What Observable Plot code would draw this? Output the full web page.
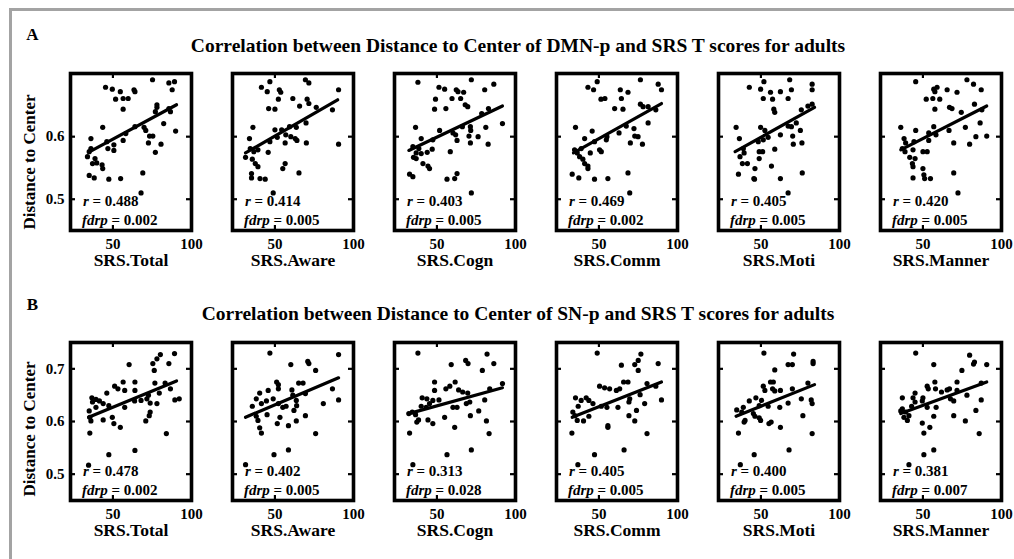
<!DOCTYPE html>
<html>
<head>
<meta charset="utf-8">
<script src="https://cdn.jsdelivr.net/npm/d3@7"></script>
<script src="https://cdn.jsdelivr.net/npm/@observablehq/plot@0.6"></script>
<style>
  html, body { margin: 0; padding: 0; background: #fff; }
  #root { position: relative; width: 1014px; height: 559px; overflow: hidden; background: #fff;
          font-family: "Liberation Serif", "Times New Roman", serif; font-weight: bold; color: #000; }
  .abs { position: absolute; white-space: nowrap; line-height: 1; }
  .panel { position: absolute; }
  .panel svg { overflow: visible; max-width: none !important; }
</style>
</head>
<body>
<div id="root"></div>
<script>
// ---------------- DATA ----------------
const panelNames = ["SRS.Total", "SRS.Aware", "SRS.Cogn", "SRS.Comm", "SRS.Moti", "SRS.Manner"];
const rowLetters = ["A", "B"];
const rowTitles = [
  "Correlation between Distance to Center of DMN-p and SRS T scores for adults",
  "Correlation between Distance to Center of SN-p and SRS T scores for adults"
];
const yAxisLabel = "Distance to Center";
const xTicks = [50, 100];
const yTicksA = [0.5, 0.6];
const yTicksB = [0.5, 0.6, 0.7];

const rA = ["0.488", "0.414", "0.403", "0.469", "0.405", "0.420"];
const fdrpA = ["0.002", "0.005", "0.005", "0.002", "0.005", "0.005"];
const rB = ["0.478", "0.402", "0.313", "0.405", "0.400", "0.381"];
const fdrpB = ["0.002", "0.005", "0.028", "0.005", "0.005", "0.007"];

// [SRS score, distance to center]
const dmnTotal = [[75.2,.691],[85.6,.686],[89.2,.688],[87.7,.675],[45.3,.679],[49.6,.676],[54.7,.672],[51.7,.660],[56.5,.661],[59.7,.661],[63.4,.675],[64,.672],[56.5,.644],[78,.651],[78,.647],[77,.640],[85.6,.645],[86.6,.640],[82.3,.621],[89.9,.609],[43.5,.615],[64,.616],[69.8,.615],[70.9,.610],[73.3,.601],[75.4,.601],[72.6,.590],[80.6,.588],[77,.575],[36,.597],[56.5,.594],[58.2,.605],[46.1,.592],[50.6,.587],[46.8,.581],[50.6,.578],[36,.581],[34.9,.576],[33.8,.568],[38.6,.565],[37,.557],[39.7,.558],[43.1,.555],[43.5,.549],[34.9,.538],[38.1,.534],[47.4,.532],[54.9,.533],[69,.542],[67.9,.510]];
const dmnAware = [[41.4,.679],[46.8,.688],[45.1,.672],[52.8,.675],[53.7,.671],[52.2,.660],[61.4,.661],[69.4,.691],[71.6,.686],[70.5,.660],[71.6,.653],[65.7,.649],[90.5,.675],[76.3,.647],[86.6,.643],[46,.645],[50,.644],[36,.615],[50,.611],[54.3,.611],[59.3,.616],[63.6,.615],[69.8,.622],[90.5,.588],[33.8,.597],[51.5,.599],[56.9,.603],[60.1,.600],[62.9,.597],[64,.594],[70,.590],[56.5,.590],[46.8,.592],[34.3,.581],[36.6,.576],[39.2,.579],[45.7,.575],[31.3,.567],[35.6,.564],[37.5,.557],[39.2,.552],[56.5,.557],[55,.549],[35.1,.541],[35.1,.534],[40.5,.533],[43.8,.532],[65.3,.542],[48.9,.510]];
const dmnCogn = [[37.9,.687],[71.9,.691],[86.2,.684],[51.3,.679],[54.9,.676],[62.3,.675],[63.4,.672],[67,.671],[80.4,.675],[49.1,.660],[59.6,.661],[65.1,.661],[48.5,.644],[55.7,.645],[68,.651],[69.6,.648],[78.5,.637],[82.8,.645],[91.7,.621],[36.4,.615],[51.7,.610],[60.2,.606],[66.2,.616],[71.3,.616],[71.5,.610],[81.1,.615],[40,.597],[47.4,.595],[61.9,.603],[62.8,.594],[70.4,.601],[76.2,.600],[71.3,.590],[82.6,.588],[34.7,.584],[38.5,.581],[36.8,.574],[40,.573],[43.8,.575],[47,.580],[35.1,.567],[36.8,.565],[41.1,.557],[44.3,.553],[45.3,.549],[58.5,.576],[32.6,.540],[34.7,.536],[56.4,.532],[61.3,.533],[62.8,.541],[71.9,.510]];
const dmnComm = [[48.9,.688],[76.4,.691],[87.7,.684],[89.8,.675],[43,.679],[46.6,.675],[51.3,.660],[53.8,.661],[63.6,.675],[68.5,.671],[64.3,.661],[60,.645],[65.3,.644],[76.4,.652],[78.1,.648],[81.3,.648],[86.2,.643],[81.3,.622],[35.1,.615],[45.7,.609],[55.1,.600],[54.7,.595],[62.8,.606],[67.4,.617],[72.3,.613],[72.8,.601],[74.9,.600],[70,.590],[77.7,.588],[40.9,.597],[47.2,.592],[50.4,.579],[51.5,.576],[44.5,.574],[34.5,.579],[36.2,.574],[37.7,.568],[39.8,.564],[40.9,.557],[43,.553],[43,.549],[33,.540],[37.2,.534],[47.2,.532],[55.7,.533],[68.5,.542],[69.6,.510],[38.7,.581]];
const dmnMoti = [[42.6,.679],[51.9,.688],[49.8,.676],[56.1,.671],[62.4,.672],[68.3,.691],[69.4,.675],[82.6,.684],[82.6,.675],[51.5,.661],[57.4,.660],[67.3,.661],[58.2,.644],[58.8,.639],[75.7,.643],[79.9,.649],[82.6,.652],[72.5,.622],[34.2,.615],[49.8,.615],[52.5,.610],[67.3,.617],[69.4,.616],[75.1,.610],[36.3,.597],[62.4,.603],[70.2,.601],[70.6,.588],[76.1,.590],[48.3,.592],[51.5,.595],[54.6,.599],[58.8,.580],[39.3,.574],[36.7,.568],[48.9,.576],[51.1,.576],[48.9,.565],[38.2,.557],[41.4,.557],[46.2,.549],[56.7,.553],[35.7,.540],[45.5,.533],[45.9,.532],[62.4,.533],[76.3,.542],[67.3,.510],[38.8,.581]];
const dmnManner = [[45.4,.688],[78,.691],[82.2,.684],[87.1,.675],[56.9,.676],[59,.679],[57.6,.672],[65.4,.675],[71.7,.671],[52.1,.660],[56.3,.661],[60.7,.660],[57.6,.644],[66.9,.647],[68.5,.645],[74.4,.639],[82.8,.652],[87.5,.643],[86.4,.622],[35.9,.615],[45.4,.610],[56.9,.616],[53.7,.606],[58.3,.603],[66.6,.610],[77,.615],[90.6,.601],[83.7,.600],[38,.597],[39,.590],[44.3,.592],[53.7,.594],[69.6,.590],[79.7,.588],[36.9,.581],[38.6,.576],[43.7,.579],[50,.576],[52.7,.576],[41.6,.567],[45,.565],[43.3,.557],[43.7,.552],[50,.549],[43.7,.534],[50.6,.539],[51.1,.533],[54.8,.533],[69.6,.542],[72.3,.510]];

const snTotal = [[89.2,.729],[80.2,.727],[78,.719],[75.4,.710],[76.3,.697],[85.6,.710],[60.3,.708],[64,.675],[56.5,.675],[51.1,.667],[53.2,.662],[57.5,.659],[46.1,.654],[36.6,.645],[39.2,.642],[41.4,.639],[37,.637],[43.8,.634],[39.2,.627],[47.4,.630],[57.5,.627],[64,.659],[76.7,.673],[83.2,.673],[86.6,.662],[79.5,.654],[72.6,.650],[71.6,.643],[67.9,.640],[73.7,.635],[78,.634],[89.4,.641],[92.2,.643],[63.8,.639],[73.7,.618],[73.1,.611],[70.9,.601],[34.9,.620],[35.3,.608],[36,.601],[43.8,.603],[49.6,.608],[50.6,.596],[54.7,.589],[35.3,.578],[84,.577],[47.4,.537],[64,.545],[34.5,.517]];
const snAware = [[46.8,.730],[90.5,.727],[60.1,.708],[70.9,.714],[71.6,.710],[75.9,.697],[51.1,.675],[52.2,.670],[52.2,.662],[45.7,.659],[40.3,.654],[48.9,.643],[44.6,.639],[38.1,.643],[35.6,.629],[41.4,.634],[52.2,.634],[55,.627],[57.1,.629],[60.8,.660],[65.1,.673],[67.9,.673],[61.4,.650],[63.6,.640],[69.4,.653],[86.6,.662],[90.5,.641],[80.8,.634],[63.8,.630],[62.1,.621],[69.4,.611],[63.6,.601],[45,.613],[53.2,.608],[38.1,.610],[39.2,.602],[40.3,.588],[41.4,.578],[51.5,.596],[58.6,.592],[75.9,.577],[49.4,.537],[58.6,.546],[31.3,.518]];
const snCogn = [[37.9,.730],[81.9,.728],[68.3,.716],[69.8,.710],[86.2,.710],[59.1,.708],[78.9,.697],[48.5,.675],[48.5,.659],[55.7,.662],[58.2,.667],[61.6,.675],[63.8,.660],[66.4,.656],[69.6,.654],[83.6,.662],[91.7,.672],[40.6,.645],[43.6,.643],[47.4,.640],[51.3,.641],[60.2,.627],[62.8,.627],[68.7,.634],[70.9,.637],[80.4,.641],[40,.629],[34.3,.618],[36.4,.613],[45.3,.634],[43.2,.627],[38.3,.603],[37.2,.599],[44.3,.603],[47.4,.596],[54.9,.608],[71.3,.611],[76.6,.620],[81.5,.601],[61.3,.589],[32.6,.578],[83.2,.577],[56.4,.537],[71.9,.546],[34.7,.518],[32.1,.615]];
const snComm = [[48.9,.730],[76.7,.728],[75,.716],[72.8,.708],[64.3,.707],[87.7,.710],[75,.697],[50.4,.667],[53.6,.664],[56.8,.662],[63.2,.662],[65.7,.675],[68.5,.675],[80.6,.672],[86.2,.667],[61.1,.659],[35.1,.645],[41.9,.645],[43.6,.640],[38.7,.640],[46.2,.634],[51.5,.629],[55.1,.627],[69.6,.643],[69.1,.637],[76.2,.651],[79.1,.634],[89.8,.641],[36.8,.629],[33.4,.618],[34.7,.611],[36.2,.602],[43.6,.610],[40.2,.601],[62.1,.627],[69.1,.611],[73.9,.621],[72.8,.601],[55.7,.592],[55.7,.589],[32.8,.578],[80.6,.577],[47.2,.537],[66,.546],[36.6,.518]];
const snMoti = [[51.9,.730],[70.8,.728],[67.3,.708],[70,.708],[58.8,.698],[83.2,.714],[83.2,.710],[56.1,.675],[57.9,.675],[51.5,.667],[52.5,.659],[57.4,.662],[62.4,.659],[58.8,.658],[70,.662],[79.9,.673],[46.8,.645],[42.6,.639],[38.8,.627],[34.6,.622],[37.8,.618],[39.9,.602],[39.3,.599],[45.2,.615],[48.9,.630],[50.4,.640],[54.6,.629],[62,.627],[67.3,.635],[75.7,.643],[82,.641],[82.6,.634],[48.9,.607],[49.8,.602],[55.1,.596],[56.5,.599],[46.2,.610],[76.7,.611],[62.4,.589],[35.7,.578],[82.6,.577],[45.7,.537],[67.9,.546],[36.9,.518]];
const snManner = [[45.4,.730],[79.7,.726],[82.8,.713],[82.2,.709],[90.6,.708],[56.9,.708],[74.8,.697],[57.6,.675],[52.7,.667],[53.4,.662],[58,.662],[61.8,.656],[65.4,.660],[66.9,.662],[71.7,.675],[71.7,.659],[87.1,.673],[36.9,.645],[45,.654],[43.7,.645],[45,.637],[50,.645],[49.6,.639],[52.7,.627],[58.4,.627],[67.5,.643],[69.6,.639],[78,.650],[87.1,.641],[83.7,.621],[36.9,.624],[39,.618],[41.1,.611],[37.9,.608],[42.8,.629],[40.1,.602],[56.9,.610],[69.6,.611],[77,.601],[49.6,.597],[54.4,.589],[50.6,.578],[85.8,.577],[50.6,.537],[56.9,.546],[41.1,.518],[35.9,.620]];

// fitted regression lines: [x start, y start, x end, y end]
const fitA = [[35.3,.576,90.5,.651],[31.3,.574,89.9,.659],[32.1,.578,91.7,.649],[33.8,.574,89.8,.653],[33.6,.576,84.1,.647],[35.9,.579,90.6,.649]];
const fitB = [[34.5,.608,90.5,.677],[31.3,.608,90.5,.683],[32.1,.615,91.7,.664],[33,.608,89.8,.675],[34.2,.610,84.1,.670],[35.9,.615,90.6,.675]];

// ---------------- LAYOUT ----------------
const FONT = '"Liberation Serif", "Times New Roman", serif';
const root = document.getElementById("root");

// gray border (top and left)
const border = document.createElement("div");
border.className = "abs";
Object.assign(border.style, {left: "9px", top: "7.5px", width: "1020px", height: "560px",
  borderTop: "3px solid #a3a3a3", borderLeft: "3px solid #a3a3a3"});
root.appendChild(border);

const rows = [
  {letter: rowLetters[0], title: rowTitles[0], pts: [dmnTotal, dmnAware, dmnCogn, dmnComm, dmnMoti, dmnManner],
   fit: fitA, r: rA, fdrp: fdrpA, yDomain: [0.45, 0.701], yTicks: yTicksA,
   frameTop: 73, frameH: 157, titleY: 46, letterY: 33.5, yLabelY: 162},
  {letter: rowLetters[1], title: rowTitles[1], pts: [snTotal, snAware, snCogn, snComm, snMoti, snManner],
   fit: fitB, r: rB, fdrp: fdrpB, yDomain: [0.45, 0.75], yTicks: yTicksB,
   frameTop: 342, frameH: 158, titleY: 314, letterY: 303.5, yLabelY: 429}
];

const frameW = 121, ML = 60, MR = 30, MT = 10, MB = 50;
const xDomain = [23, 100];

function addText(txt, x, y, size, extra = {}) {
  const d = document.createElement("div");
  d.className = "abs";
  d.textContent = txt;
  Object.assign(d.style, {left: x + "px", top: y + "px", fontSize: size + "px",
    transform: "translate(-50%, -50%)"}, extra);
  root.appendChild(d);
  return d;
}

rows.forEach((row) => {
  addText(row.letter, 32.5, row.letterY, 17);
  addText(row.title, 518, row.titleY, 19.5);
  addText(yAxisLabel, 29, row.yLabelY, 17, {transform: "translate(-50%, -50%) rotate(-90deg)"});

  for (let c = 0; c < 6; c++) {
    const frameLeft = 70 + c * 161.9;
    const f = row.fit[c];
    const fitLine = [[f[0], f[1]], [f[2], f[3]]];
    const H = row.frameH;
    const W = ML + frameW + MR;
    const chart = Plot.plot({
      width: W,
      height: MT + H + MB,
      marginLeft: ML, marginRight: MR, marginTop: MT, marginBottom: MB,
      x: {domain: xDomain, ticks: xTicks, tickSize: 0, tickPadding: 7.5, label: null},
      y: c === 0
        ? {domain: row.yDomain, ticks: row.yTicks, tickSize: 0, tickPadding: 6, label: null, tickFormat: d3.format(".1f")}
        : {domain: row.yDomain, axis: null},
      style: {fontFamily: FONT, fontWeight: "bold", fontSize: "15px", color: "#000",
              background: "transparent", overflow: "visible", maxWidth: "none"},
      marks: [
        // inner tick marks on all four sides
        Plot.ruleX(xTicks, {insetTop: H - 5, stroke: "#000", strokeWidth: 2.2}),
        Plot.ruleX(xTicks, {insetBottom: H - 5, stroke: "#000", strokeWidth: 2.2}),
        Plot.ruleY(row.yTicks, {insetRight: frameW - 5, stroke: "#000", strokeWidth: 2.2}),
        Plot.ruleY(row.yTicks, {insetLeft: frameW - 5, stroke: "#000", strokeWidth: 2.2}),
        Plot.dot(row.pts[c], {x: d => d[0], y: d => d[1], r: 2.6, fill: "#000", stroke: "none"}),
        Plot.line(fitLine, {x: d => d[0], y: d => d[1], stroke: "#000", strokeWidth: 3.2}),
        Plot.frame({stroke: "#000", strokeWidth: 3.6}),
        Plot.text([panelNames[c]], {text: d => d, frameAnchor: "bottom", dy: 30, fontSize: 17.5, lineAnchor: "middle"}),
        Plot.text(["r"], {text: d => d, frameAnchor: "bottom-left", dx: 12.5, dy: -29, textAnchor: "start", lineAnchor: "middle", fontStyle: "italic"}),
        Plot.text(["= " + row.r[c]], {text: d => d, frameAnchor: "bottom-left", dx: 12.5 + 5.8 + 3.75, dy: -29, textAnchor: "start", lineAnchor: "middle"}),
        Plot.text(["fdrp"], {text: d => d, frameAnchor: "bottom-left", dx: 11.5, dy: -10, textAnchor: "start", lineAnchor: "middle", fontStyle: "italic"}),
        Plot.text(["= " + row.fdrp[c]], {text: d => d, frameAnchor: "bottom-left", dx: 11.5 + 25.8 + 3.75, dy: -10, textAnchor: "start", lineAnchor: "middle"})
      ]
    });
    chart.style.maxWidth = "none";
    const wrap = document.createElement("div");
    wrap.className = "panel";
    wrap.style.left = (frameLeft - ML) + "px";
    wrap.style.top = (row.frameTop - MT) + "px";
    wrap.style.width = W + "px";
    wrap.appendChild(chart);
    root.appendChild(wrap);
  }
});
</script>
</body>
</html>
